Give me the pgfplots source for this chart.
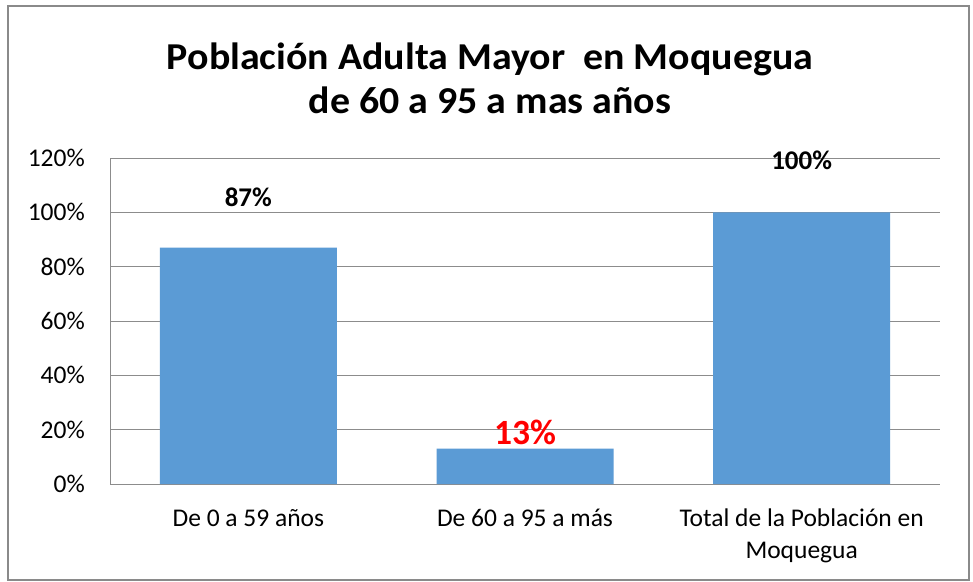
\documentclass[border=0pt]{standalone}
\usepackage{pgfplots}
\pgfplotsset{compat=1.18}
\usepackage{fontspec}
\setmainfont{Carlito}
\newfontfamily\titlefont[FakeStretch=1.05]{Carlito}
\definecolor{barblue}{HTML}{5B9BD5}
\definecolor{gridgray}{HTML}{8C8C8C}
\definecolor{framegray}{HTML}{8A8A8A}
\begin{document}
\begin{tikzpicture}
\useasboundingbox (0,0) rectangle (973bp,-582bp);
\fill[white] (0,0) rectangle (973bp,-582bp);
\draw[framegray, line width=2bp] (8bp,-6bp) rectangle (969bp,-580bp);
\node[align=center, font=\titlefont\fontsize{38bp}{44bp}\selectfont\bfseries] at (490bp,-78bp)
  {Población Adulta Mayor\ \ en Moquegua\\de 60 a 95 a mas años};
\begin{axis}[
  at={(110bp,-484bp)}, anchor=south west,
  scale only axis, width=830bp, height=326bp,
  xmin=-0.5, xmax=2.5, ymin=0, ymax=120,
  ybar, bar width=177bp,
  axis x line*=bottom, axis y line*=left,
  axis line style={gridgray, line width=1bp},
  ymajorgrids, grid style={gridgray, line width=1bp},
  major tick length=0pt,
  xtick={0,1,2},
  xticklabels={De 0 a 59 años, De 60 a 95 a más, {Total de la Población en\\Moquegua}},
  ytick={0,20,40,60,80,100,120},
  yticklabels={0\%,20\%,40\%,60\%,80\%,100\%,120\%},
  tick label style={font=\fontsize{25.5bp}{32bp}\selectfont},
  yticklabel style={anchor=east, inner sep=0pt, xshift=-25bp},
  xticklabel style={anchor=north, align=center, inner sep=0pt, yshift=-25bp},
  clip=false,
]
\addplot[fill=barblue, draw=none] coordinates {(0,87) (1,13) (2,100)};
\node[font=\fontsize{27bp}{32bp}\selectfont\bfseries] at (axis cs:0,105.6) {87\%};
\node[font=\fontsize{35.5bp}{40bp}\selectfont\bfseries, text=red] at (axis cs:1,19.1) {13\%};
\node[font=\fontsize{27bp}{32bp}\selectfont\bfseries] at (axis cs:2,119.3) {100\%};
\end{axis}
\end{tikzpicture}
\end{document}
